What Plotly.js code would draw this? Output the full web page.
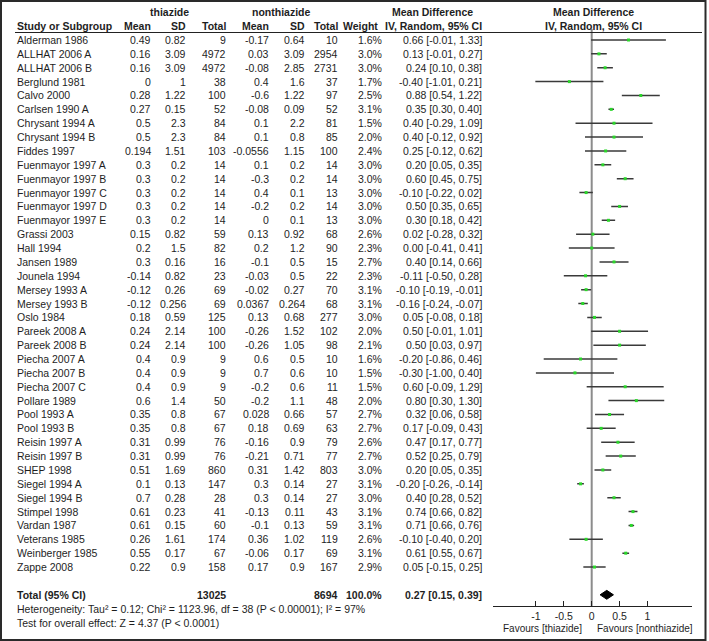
<!DOCTYPE html>
<html>
<head>
<meta charset="utf-8">
<script src="https://cdn.plot.ly/plotly-3.0.1.min.js"></script>
<style>html,body{margin:0;padding:0;background:#fff;}#chart{width:709px;height:641px;}</style>
</head>
<body>
<div id="chart"></div>
<script>
// ---------- data ----------
const studies = ["Alderman 1986","ALLHAT 2006 A","ALLHAT 2006 B","Berglund 1981","Calvo 2000","Carlsen 1990 A","Chrysant 1994 A","Chrysant 1994 B","Fiddes 1997","Fuenmayor 1997 A","Fuenmayor 1997 B","Fuenmayor 1997 C","Fuenmayor 1997 D","Fuenmayor 1997 E","Grassi 2003","Hall 1994","Jansen 1989","Jounela 1994","Mersey 1993 A","Mersey 1993 B","Oslo 1984","Pareek 2008 A","Pareek 2008 B","Piecha 2007 A","Piecha 2007 B","Piecha 2007 C","Pollare 1989","Pool 1993 A","Pool 1993 B","Reisin 1997 A","Reisin 1997 B","SHEP 1998","Siegel 1994 A","Siegel 1994 B","Stimpel 1998","Vardan 1987","Veterans 1985","Weinberger 1985","Zappe 2008"];
const thMean = [0.49,0.16,0.16,0,0.28,0.27,0.5,0.5,0.194,0.3,0.3,0.3,0.3,0.3,0.15,0.2,0.3,-0.14,-0.12,-0.12,0.18,0.24,0.24,0.4,0.4,0.4,0.6,0.35,0.35,0.31,0.31,0.51,0.1,0.7,0.61,0.61,0.26,0.55,0.22];
const thSD = [0.82,3.09,3.09,1,1.22,0.15,2.3,2.3,1.51,0.2,0.2,0.2,0.2,0.2,0.82,1.5,0.16,0.82,0.26,0.256,0.59,2.14,2.14,0.9,0.9,0.9,1.4,0.8,0.8,0.99,0.99,1.69,0.13,0.28,0.23,0.15,1.61,0.17,0.9];
const thN = [9,4972,4972,38,100,52,84,84,103,14,14,14,14,14,59,82,16,23,69,69,125,100,100,9,9,9,50,67,67,76,76,860,147,28,41,60,174,67,158];
const nonMean = [-0.17,0.03,-0.08,0.4,-0.6,-0.08,0.1,0.1,-0.0556,0.1,-0.3,0.4,-0.2,0,0.13,0.2,-0.1,-0.03,-0.02,0.0367,0.13,-0.26,-0.26,0.6,0.7,-0.2,-0.2,0.028,0.18,-0.16,-0.21,0.31,0.3,0.3,-0.13,-0.1,0.36,-0.06,0.17];
const nonSD = [0.64,3.09,2.85,1.6,1.22,0.09,2.2,0.8,1.15,0.2,0.2,0.1,0.2,0.1,0.92,1.2,0.5,0.5,0.27,0.264,0.68,1.52,1.05,0.5,0.6,0.6,1.1,0.66,0.69,0.9,0.71,1.42,0.14,0.14,0.11,0.13,1.02,0.17,0.9];
const nonN = [10,2954,2731,37,97,52,81,85,100,14,14,13,14,13,68,90,15,22,70,68,277,102,98,10,10,11,48,57,63,79,77,803,27,27,43,59,119,69,167];
const weight = [1.6,3.0,3.0,1.7,2.5,3.1,1.5,2.0,2.4,3.0,3.0,3.0,3.0,3.0,2.6,2.3,2.7,2.3,3.1,3.1,3.0,2.0,2.1,1.6,1.5,1.5,2.0,2.7,2.7,2.6,2.7,3.0,3.1,3.0,3.1,3.1,2.6,3.1,2.9];
const md = [0.66,0.13,0.24,-0.40,0.88,0.35,0.40,0.40,0.25,0.20,0.60,-0.10,0.50,0.30,0.02,0.00,0.40,-0.11,-0.10,-0.16,0.05,0.50,0.50,-0.20,-0.30,0.60,0.80,0.32,0.17,0.47,0.52,0.20,-0.20,0.40,0.74,0.71,-0.10,0.61,0.05];
const ciLo = [-0.01,-0.01,0.10,-1.01,0.54,0.30,-0.29,-0.12,-0.12,0.05,0.45,-0.22,0.35,0.18,-0.28,-0.41,0.14,-0.50,-0.19,-0.24,-0.08,-0.01,0.03,-0.86,-1.00,-0.09,0.30,0.06,-0.09,0.17,0.25,0.05,-0.26,0.28,0.66,0.66,-0.40,0.55,-0.15];
const ciHi = [1.33,0.27,0.38,0.21,1.22,0.40,1.09,0.92,0.62,0.35,0.75,0.02,0.65,0.42,0.32,0.41,0.66,0.28,-0.01,-0.07,0.18,1.01,0.97,0.46,0.40,1.29,1.30,0.58,0.43,0.77,0.79,0.35,-0.14,0.52,0.82,0.76,0.20,0.67,0.25];
const totalN = [13025, 8694];
const totalWeight = 100.0;
const totalMD = [0.27, 0.15, 0.39]; // estimate, lower, upper
const heterogeneityText = "Heterogeneity: Tau\u00b2 = 0.12; Chi\u00b2 = 1123.96, df = 38 (P < 0.00001); I\u00b2 = 97%";
const overallText = "Test for overall effect: Z = 4.37 (P < 0.0001)";
const tickVals = [-1, -0.5, 0, 0.5, 1];
const tickText = ["-1", "-0.5", "0", "0.5", "1"];
const favourLeft = "Favours [thiazide]";
const favourRight = "Favours [nonthiazide]";

// ---------- layout helpers ----------
const W = 709, H = 641;
const FONT = "Liberation Sans, Arial, sans-serif";
const TXT = "#1e1e1e";
const FS = 10.5;
const px = v => v / W;
const py = v => 1 - v / H;
const n = studies.length;
const rows = studies.map((_, i) => i);
const totalRow = n + 1;

const annotations = [];
function add(text, xPx, yRow, anchor, bold, size) {
  annotations.push({
    text: bold ? "<b>" + text + "</b>" : text,
    x: px(xPx), xref: "paper", y: yRow, yref: "y",
    xanchor: anchor, yanchor: "middle", showarrow: false,
    font: {family: FONT, size: size || FS, color: TXT}, borderpad: 0
  });
}
const fmt2 = v => v.toFixed(2);
// headers
add("thiazide", 169, -2, "center", true);
add("nonthiazide", 281, -2, "center", true);
add("Mean Difference", 432, -2, "center", true);
add("Mean Difference", 593, -2, "center", true);
add("Study or Subgroup", 16, -1, "left", true);
add("Mean", 152, -1, "right", true);
add("SD", 187, -1, "right", true);
add("Total", 227, -1, "right", true);
add("Mean", 270, -1, "right", true);
add("SD", 306, -1, "right", true);
add("Total", 339, -1, "right", true);
add("Weight", 379, -1, "right", true);
add("IV, Random, 95% CI", 433, -1, "center", true);
add("IV, Random, 95% CI", 593, -1, "center", true);
// rows
rows.forEach(i => {
  add(studies[i], 16, i, "left");
  add(String(thMean[i]), 152, i, "right");
  add(String(thSD[i]), 187, i, "right");
  add(String(thN[i]), 227, i, "right");
  add(String(nonMean[i]), 270, i, "right");
  add(String(nonSD[i]), 306, i, "right");
  add(String(nonN[i]), 339, i, "right");
  add(weight[i].toFixed(1) + "%", 383, i, "right");
  add(fmt2(md[i]) + " [" + fmt2(ciLo[i]) + ", " + fmt2(ciHi[i]) + "]", 483, i, "right");
});
// total
add("Total (95% CI)", 16, totalRow, "left", true);
add(String(totalN[0]), 227, totalRow, "right", true);
add(String(totalN[1]), 339, totalRow, "right", true);
add(totalWeight.toFixed(1) + "%", 383, totalRow, "right", true);
add(fmt2(totalMD[0]) + " [" + fmt2(totalMD[1]) + ", " + fmt2(totalMD[2]) + "]", 483, totalRow, "right", true);
add(heterogeneityText, 16, totalRow + 1, "left");
add(overallText, 16, totalRow + 2, "left");
// favours labels
annotations.push({text: favourLeft, x: 0, xref: "x", y: py(628), yref: "paper", xanchor: "right", yanchor: "middle", xshift: -9, showarrow: false, font: {family: FONT, size: 10, color: TXT}, borderpad: 0});
annotations.push({text: favourRight, x: 0, xref: "x", y: py(628), yref: "paper", xanchor: "left", yanchor: "middle", xshift: 4, showarrow: false, font: {family: FONT, size: 10, color: TXT}, borderpad: 0});

const rowPx = 13.87, row0Px = 40;
const yTop = -row0Px / rowPx, yBottom = (H - row0Px) / rowPx;

const traces = [
  {
    type: "scatter", mode: "markers",
    x: md, y: rows,
    marker: {symbol: "square", size: 3, color: "#2bd62b"},
    error_x: {type: "data", symmetric: false,
      array: md.map((v, i) => ciHi[i] - v),
      arrayminus: md.map((v, i) => v - ciLo[i]),
      color: "#3a3a3a", thickness: 1.5, width: 0},
    hoverinfo: "skip", cliponaxis: false
  },
  {
    type: "scatter", mode: "lines",
    x: [totalMD[1], totalMD[0], totalMD[2], totalMD[0], totalMD[1]],
    y: [totalRow, totalRow - 0.32, totalRow, totalRow + 0.32, totalRow],
    fill: "toself", fillcolor: "#000", line: {color: "#000", width: 1},
    hoverinfo: "skip", cliponaxis: false
  }
];

const layout = {
  width: W, height: H,
  margin: {l: 0, r: 0, t: 0, b: 0},
  paper_bgcolor: "#fff", plot_bgcolor: "rgba(0,0,0,0)",
  showlegend: false, hovermode: false,
  xaxis: {
    domain: [px(492.7), px(691.7)],
    range: [(492.7 - 591.7) / 55.8, (691.7 - 591.7) / 55.8],
    anchor: "free", position: 1 - 606 / H,
    showline: true, linecolor: "#222", linewidth: 1,
    showgrid: false, zeroline: false,
    tickvals: tickVals, ticktext: tickText,
    ticks: "inside", ticklen: 5, tickcolor: "#222", tickwidth: 1,
    tickfont: {family: FONT, size: 10.5, color: TXT},
    fixedrange: true
  },
  yaxis: {
    domain: [0, 1], range: [yBottom, yTop],
    visible: false, showgrid: false, zeroline: false, fixedrange: true
  },
  annotations: annotations,
  shapes: [
    // header rule
    {type: "line", xref: "paper", yref: "paper", x0: px(15), x1: px(702), y0: py(32.5), y1: py(32.5), line: {color: "#222", width: 1}},
    // line of no effect
    {type: "line", xref: "x", yref: "paper", x0: 0, x1: 0, y0: py(606), y1: py(29), line: {color: "#8c8c8c", width: 2}, layer: "below"},
    // outer frame
    {type: "rect", xref: "paper", yref: "paper", x0: px(1), x1: px(705.5), y0: py(640), y1: py(1), line: {color: "#2a2a2a", width: 2}}
  ]
};

Plotly.newPlot("chart", traces, layout, {displayModeBar: false, staticPlot: true});
</script>
</body>
</html>
